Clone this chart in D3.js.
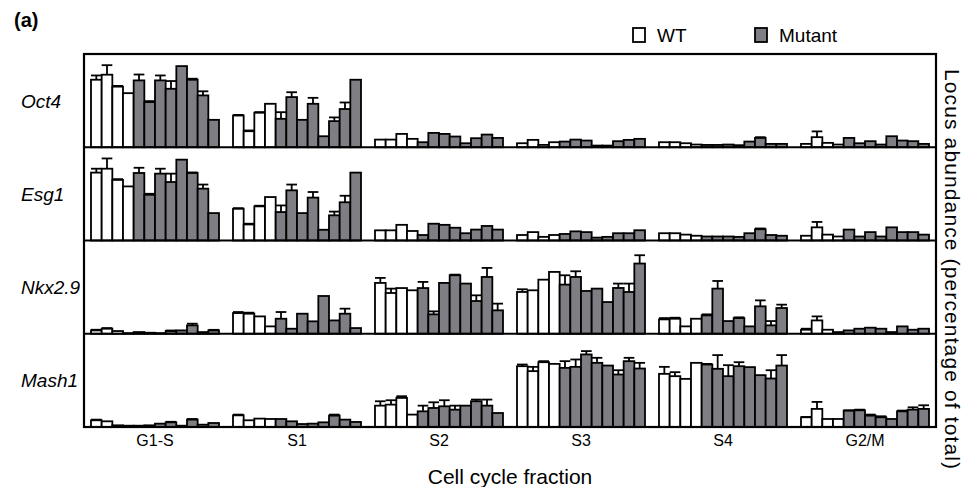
<!DOCTYPE html>
<html>
<head>
<meta charset="utf-8">
<script src="https://cdn.jsdelivr.net/npm/d3@7"></script>
<style>
  html, body { margin: 0; padding: 0; background: #fff; }
  svg { display: block; font-family: "Liberation Sans", Arial, sans-serif; }
</style>
</head>
<body>
<svg id="chart" width="964" height="487"></svg>
<script>
// ---------- DATA ----------
const fractions = ["G1-S", "S1", "S2", "S3", "S4", "G2/M"];
const genes = ["Oct4", "Esg1", "Nkx2.9", "Mash1"];
const samples = ["WT1", "WT2", "WT3", "WT4", "M1", "M2", "M3", "M4", "M5", "M6", "M7", "M8"];
const sampleGenotype = ["WT", "WT", "WT", "WT", "Mutant", "Mutant", "Mutant", "Mutant", "Mutant", "Mutant", "Mutant", "Mutant"];
const legendLabels = ["WT", "Mutant"];

// values (percentage-scale, relative to panel height) per fraction, 12 samples each
const oct4Values = [
  [72.4, 77.8, 65.0, 58.0, 71.7, 48.4, 71.7, 62.7, 87.0, 72.4, 55.6, 29.4],
  [34.0, 17.2, 37.0, 46.6, 30.5, 53.8, 29.4, 46.6, 11.8, 28.0, 41.0, 72.4],
  [8.2, 8.2, 14.3, 9.0, 5.4, 15.4, 14.3, 11.5, 4.3, 9.7, 13.6, 10.0],
  [4.3, 7.9, 2.5, 5.4, 6.1, 8.2, 7.2, 1.8, 1.8, 6.5, 7.9, 9.0],
  [5.4, 5.4, 4.3, 2.9, 2.5, 2.5, 2.9, 2.2, 6.1, 10.0, 3.6, 3.6],
  [3.6, 10.8, 4.7, 2.9, 10.0, 4.3, 6.5, 2.9, 11.8, 7.2, 6.5, 3.6]
];
const oct4Errors = [
  [4.6, 10.2, 0.8, 0, 6.3, 1.1, 5.3, 8.3, 0, 1.1, 4.4, 0],
  [0.7, 0.8, 0.7, 0, 7.1, 5.2, 0, 6.4, 0, 4.0, 7.0, 0],
  [0, 0, 0, 0, 0, 0, 0, 0, 0, 0, 0, 0],
  [0, 0, 0, 0, 0, 0, 0, 0, 0, 0, 0, 0],
  [0, 0, 0, 0, 0, 0, 0, 0, 0, 0.8, 0, 0],
  [0, 6.2, 0, 0, 0, 0, 0, 0, 0, 0, 0, 0]
];

const esg1Values = [
  [72.8, 77.0, 65.0, 58.0, 72.4, 49.0, 71.7, 62.7, 86.7, 72.4, 55.6, 29.4],
  [34.0, 17.2, 36.6, 46.6, 30.5, 53.8, 29.4, 46.0, 11.5, 27.0, 41.0, 72.8],
  [10.9, 10.9, 16.8, 10.2, 5.9, 18.0, 16.8, 13.7, 7.8, 11.7, 15.6, 11.7],
  [5.9, 9.0, 3.9, 5.9, 7.0, 9.8, 9.0, 3.1, 3.9, 7.8, 7.8, 11.0],
  [7.8, 7.8, 6.3, 5.1, 4.3, 4.3, 4.3, 3.9, 7.8, 12.1, 5.9, 5.1],
  [5.1, 14.1, 6.3, 4.3, 11.7, 4.3, 9.0, 4.3, 14.1, 9.0, 9.0, 6.3]
];
const esg1Errors = [
  [4.2, 11.0, 0.8, 0, 5.6, 1.1, 5.3, 9.0, 0, 0.6, 4.4, 0],
  [0.7, 0.8, 0.7, 0, 7.1, 6.2, 0, 6.0, 0, 4.0, 7.0, 0],
  [0, 0, 0, 0, 0, 0, 0, 0, 0, 0, 0, 0],
  [0, 0, 0, 0, 0, 0, 0, 0, 0, 0, 0, 0],
  [0, 0, 0, 0, 0, 0, 0, 0, 0, 0.8, 0, 0],
  [0, 5.8, 0, 0, 0, 0, 0, 0, 0, 0, 0, 0]
];

const nkx29Values = [
  [3.6, 5.4, 2.9, 0.7, 1.8, 1.1, 0.7, 2.9, 3.6, 9.0, 1.8, 3.6],
  [22.2, 21.5, 18.6, 7.9, 16.1, 5.4, 21.5, 13.3, 40.5, 14.3, 21.5, 6.1],
  [54.5, 43.7, 49.0, 46.6, 49.0, 20.8, 54.5, 62.7, 53.8, 35.1, 60.9, 25.1],
  [44.8, 46.6, 58.0, 66.3, 52.7, 60.9, 45.9, 48.4, 34.0, 49.1, 44.8, 75.3],
  [15.4, 16.1, 7.9, 16.1, 19.7, 48.4, 13.6, 16.8, 7.9, 29.4, 9.0, 27.6],
  [4.3, 14.3, 4.3, 1.8, 3.6, 5.4, 6.5, 5.4, 1.8, 7.9, 4.3, 5.4]
];
const nkx29Errors = [
  [0.7, 0.7, 0, 0, 0, 0, 0, 0.6, 0, 1.8, 0, 0.6],
  [1.1, 1.1, 0, 0, 7.2, 0, 0, 0, 0, 0, 5.4, 0],
  [5.4, 4.7, 0, 0, 6.6, 3.2, 0, 0.7, 0, 6.1, 9.7, 7.2],
  [2.9, 0, 0, 0, 10.0, 6.1, 0, 0, 0, 4.7, 9.0, 8.9],
  [1.4, 1.1, 0, 0, 1.1, 8.2, 0, 0.8, 0, 6.4, 4.6, 3.6],
  [1.1, 4.3, 0, 0, 0, 0, 0, 0, 0, 0, 0, 0]
];

const mash1Values = [
  [7.2, 6.1, 1.8, 1.4, 1.4, 1.8, 3.6, 5.0, 1.4, 7.9, 2.5, 4.3],
  [12.5, 7.2, 9.0, 8.6, 8.6, 6.1, 3.2, 3.6, 5.0, 12.2, 7.9, 5.4],
  [22.9, 24.0, 31.2, 13.3, 16.8, 20.4, 22.2, 18.6, 22.9, 27.6, 22.9, 15.0],
  [65.2, 59.9, 69.5, 67.7, 63.4, 64.5, 77.8, 68.8, 65.9, 56.3, 70.6, 62.7],
  [57.0, 54.5, 51.6, 68.8, 67.0, 62.4, 54.5, 65.2, 64.2, 55.6, 52.0, 65.9],
  [10.4, 19.4, 8.6, 8.6, 17.6, 17.9, 12.2, 10.4, 8.6, 16.8, 18.6, 19.4]
];
const mash1Errors = [
  [0.7, 0, 0, 0, 0, 0, 0, 0.6, 0, 0.7, 0, 0],
  [0.8, 0, 0, 0, 0, 0, 0, 0, 0, 1.1, 0, 0],
  [4.7, 4.7, 1.8, 0, 6.1, 6.1, 6.5, 4.3, 0, 1.8, 6.5, 0],
  [1.8, 4.6, 1.1, 0, 7.2, 7.9, 3.6, 5.4, 0, 4.6, 3.6, 6.1],
  [7.5, 4.3, 0, 0, 0.7, 14.7, 11.8, 4.3, 0, 0, 8.9, 11.2],
  [0.4, 7.5, 0, 0, 0.3, 0.7, 1.1, 1.1, 0, 0.8, 2.5, 3.9]
];

const geneValues = [oct4Values, esg1Values, nkx29Values, mash1Values];
const geneErrors = [oct4Errors, esg1Errors, nkx29Errors, mash1Errors];

// ---------- DRAW ----------
const svg = d3.select("#chart");
const plotLeft = 84, plotRight = 936, plotTop = 54, plotBottom = 427;
const panelH = (plotBottom - plotTop) / genes.length;
const colors = { WT: "#ffffff", Mutant: "#7e7e84" };

const x0 = d3.scaleBand().domain(fractions).range([plotLeft, plotRight])
  .paddingInner(0.0986).paddingOuter(0.0493);
const x1 = d3.scaleBand().domain(samples).range([0, x0.bandwidth()]).padding(0);

genes.forEach((gene, gi) => {
  const top = plotTop + gi * panelH;
  const bottom = top + panelH;
  const y = d3.scaleLinear().domain([0, 100]).range([bottom, top]);
  const g = svg.append("g").attr("class", "panel");

  const rows = [];
  fractions.forEach((f, fi) => {
    samples.forEach((s, si) => {
      rows.push({ f, s, geno: sampleGenotype[si], v: geneValues[gi][fi][si], e: geneErrors[gi][fi][si] });
    });
  });

  g.selectAll("rect.bar").data(rows).join("rect")
    .attr("class", "bar")
    .attr("x", d => x0(d.f) + x1(d.s))
    .attr("width", x1.bandwidth())
    .attr("y", d => y(d.v))
    .attr("height", d => y(0) - y(d.v))
    .attr("fill", d => colors[d.geno])
    .attr("stroke", "#000")
    .attr("stroke-width", 1.8);

  const errs = rows.filter(d => d.e > 0);
  const cx = d => x0(d.f) + x1(d.s) + x1.bandwidth() / 2;
  g.selectAll("line.err").data(errs).join("line")
    .attr("class", "err")
    .attr("x1", cx).attr("x2", cx)
    .attr("y1", d => y(d.v)).attr("y2", d => y(d.v + d.e))
    .attr("stroke", "#000").attr("stroke-width", 1.8);
  g.selectAll("line.cap").data(errs).join("line")
    .attr("class", "cap")
    .attr("x1", d => cx(d) - x1.bandwidth() * 0.5)
    .attr("x2", d => cx(d) + x1.bandwidth() * 0.5)
    .attr("y1", d => y(d.v + d.e)).attr("y2", d => y(d.v + d.e))
    .attr("stroke", "#000").attr("stroke-width", 1.8);

  // panel baseline
  svg.append("line")
    .attr("x1", plotLeft).attr("x2", plotRight)
    .attr("y1", bottom).attr("y2", bottom)
    .attr("stroke", "#000").attr("stroke-width", 2.2);

  // gene label
  svg.append("text")
    .attr("x", 21).attr("y", (top + bottom) / 2 + 7)
    .attr("font-size", 19).attr("font-style", "italic")
    .text(gene);
});

// frame
svg.append("rect")
  .attr("x", plotLeft).attr("y", plotTop)
  .attr("width", plotRight - plotLeft).attr("height", plotBottom - plotTop)
  .attr("fill", "none").attr("stroke", "#000").attr("stroke-width", 2.2);

// x axis labels
const xAxis = d3.axisBottom(x0).tickSize(0).tickPadding(8);
const ax = svg.append("g").attr("transform", `translate(0,${plotBottom})`).call(xAxis);
ax.select(".domain").remove();
ax.selectAll("text").attr("font-size", 16).attr("font-family", "Liberation Sans, Arial, sans-serif").attr("fill", "#000");

svg.append("text")
  .attr("x", 510).attr("y", 484)
  .attr("text-anchor", "middle").attr("font-size", 21)
  .text("Cell cycle fraction");

// right label
svg.append("text")
  .attr("transform", "translate(945,269) rotate(90)")
  .attr("text-anchor", "middle").attr("font-size", 21)
  .attr("textLength", 400).attr("lengthAdjust", "spacing")
  .text("Locus abundance (percentage of total)");

// panel tag
svg.append("text")
  .attr("x", 14).attr("y", 27)
  .attr("font-size", 20).attr("font-weight", "bold")
  .text("(a)");

// legend
const legendX = [633, 755];
legendLabels.forEach((lab, i) => {
  svg.append("rect")
    .attr("x", legendX[i]).attr("y", 28)
    .attr("width", 12).attr("height", 14)
    .attr("fill", colors[lab]).attr("stroke", "#000").attr("stroke-width", 1.8);
  svg.append("text")
    .attr("x", legendX[i] + 24).attr("y", 42)
    .attr("font-size", 19)
    .text(lab);
});
</script>
</body>
</html>
